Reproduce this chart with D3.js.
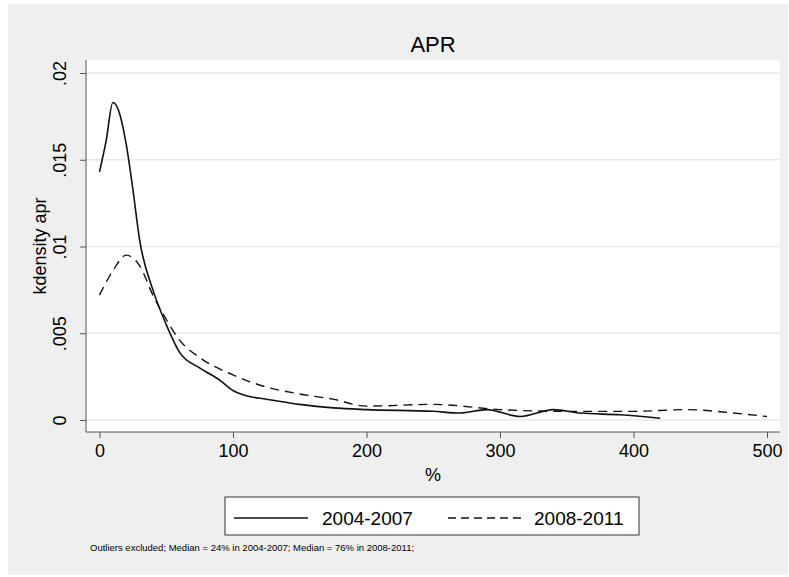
<!DOCTYPE html>
<html><head><meta charset="utf-8">
<script src="https://cdn.jsdelivr.net/npm/d3@7"></script>
<style>body{margin:0;background:#fff}text{font-family:"Liberation Sans",Arial,sans-serif}</style>
</head><body><svg id="c" width="789" height="577"></svg>
<script>
const xTicks = [0, 100, 200, 300, 400, 500];
const yTicks = [0, 0.005, 0.01, 0.015, 0.02];
const yTickLabels = ["0", ".005", ".01", ".015", ".02"];
const series = ["2004-2007", "2008-2011"];

const x0407 = [0,5,10,14,20,25,30,40,50,60,75,90,100,110,125,150,175,200,250,270,290,315,340,360,390,420];
const y0407 = [.0143,.0161,.0183,.0179,.0159,.0133,.0104,.0075,.0055,.0039,.003,.0023,.0017,.0014,.0012,.0009,.0007,.0006,.0005,.0004,.0006,.0002,.0006,.0004,.0003,.0001];
const x0811 = [0,10,20,30,40,50,60,75,100,125,150,175,200,250,300,350,400,440,475,500];
const y0811 = [.0072,.0086,.0095,.0089,.0072,.0058,.0046,.0036,.0026,.0019,.0015,.0012,.0008,.0009,.0006,.0005,.0005,.0006,.0004,.0002];

const svg = d3.select("#c");
svg.append("rect").attr("x",8).attr("y",4).attr("width",780).attr("height",571).attr("fill","#efefef");
svg.append("rect").attr("x",86).attr("y",60).attr("width",694).attr("height",372).attr("fill","#fff");

const x = d3.scaleLinear().domain([0,500]).range([99.5,767]);
const y = d3.scaleLinear().domain([0,0.02]).range([420,73]);

// grid
svg.selectAll(".grid").data(yTicks).enter().append("line")
  .attr("x1",86).attr("x2",780).attr("y1",d=>y(d)).attr("y2",d=>y(d))
  .attr("stroke","#e8e8e8").attr("stroke-width",1.5);

const xa = svg.append("g").attr("transform","translate(0,432)")
  .call(d3.axisBottom(x).tickValues(xTicks).tickSize(6).tickPadding(6));
xa.selectAll("text").attr("font-size",18).attr("fill","#000");
xa.select(".domain").attr("d","M86,0H780").attr("stroke","#555");
xa.selectAll(".tick line").attr("stroke","#555");

const ya = svg.append("g").attr("transform","translate(86,0)")
  .call(d3.axisLeft(y).tickValues(yTicks).tickFormat((d,i)=>yTickLabels[i]).tickSize(6));
ya.select(".domain").attr("d","M0,60V432").attr("stroke","#555");
ya.selectAll(".tick line").attr("stroke","#555");
ya.selectAll("text").attr("font-size",18).attr("fill","#000")
  .attr("transform","rotate(-90)").attr("x",0).attr("y",-20).attr("dy","0").attr("text-anchor","middle");

const line = d3.line().curve(d3.curveMonotoneX);
svg.append("path").attr("d",line(x0407.map((v,i)=>[x(v),y(y0407[i])])))
  .attr("fill","none").attr("stroke","#111").attr("stroke-width",1.6);
svg.append("path").attr("d",line(x0811.map((v,i)=>[x(v),y(y0811[i])])))
  .attr("fill","none").attr("stroke","#111").attr("stroke-width",1.4).attr("stroke-dasharray","9,6");

svg.append("text").attr("x",433).attr("y",52).attr("text-anchor","middle").attr("font-size",22).text("APR");
svg.append("text").attr("x",433).attr("y",481).attr("text-anchor","middle").attr("font-size",18).text("%");
svg.append("text").attr("transform","translate(46,246) rotate(-90)").attr("text-anchor","middle").attr("font-size",18).text("kdensity apr");

// legend
const lg = svg.append("g");
lg.append("rect").attr("x",225).attr("y",497).attr("width",414).attr("height",38).attr("fill","#fff").attr("stroke","#333");
lg.append("line").attr("x1",234).attr("x2",308).attr("y1",518).attr("y2",518).attr("stroke","#111").attr("stroke-width",1.6);
lg.append("text").attr("x",322).attr("y",525).attr("font-size",19).text(series[0]);
lg.append("line").attr("x1",448).attr("x2",522).attr("y1",518).attr("y2",518).attr("stroke","#111").attr("stroke-width",1.4).attr("stroke-dasharray","8,5");
lg.append("text").attr("x",534).attr("y",525).attr("font-size",19).text(series[1]);

svg.append("text").attr("x",90).attr("y",551).attr("font-size",9.5)
  .text("Outliers excluded; Median = 24% in 2004-2007; Median = 76% in 2008-2011;");
</script></body></html>
